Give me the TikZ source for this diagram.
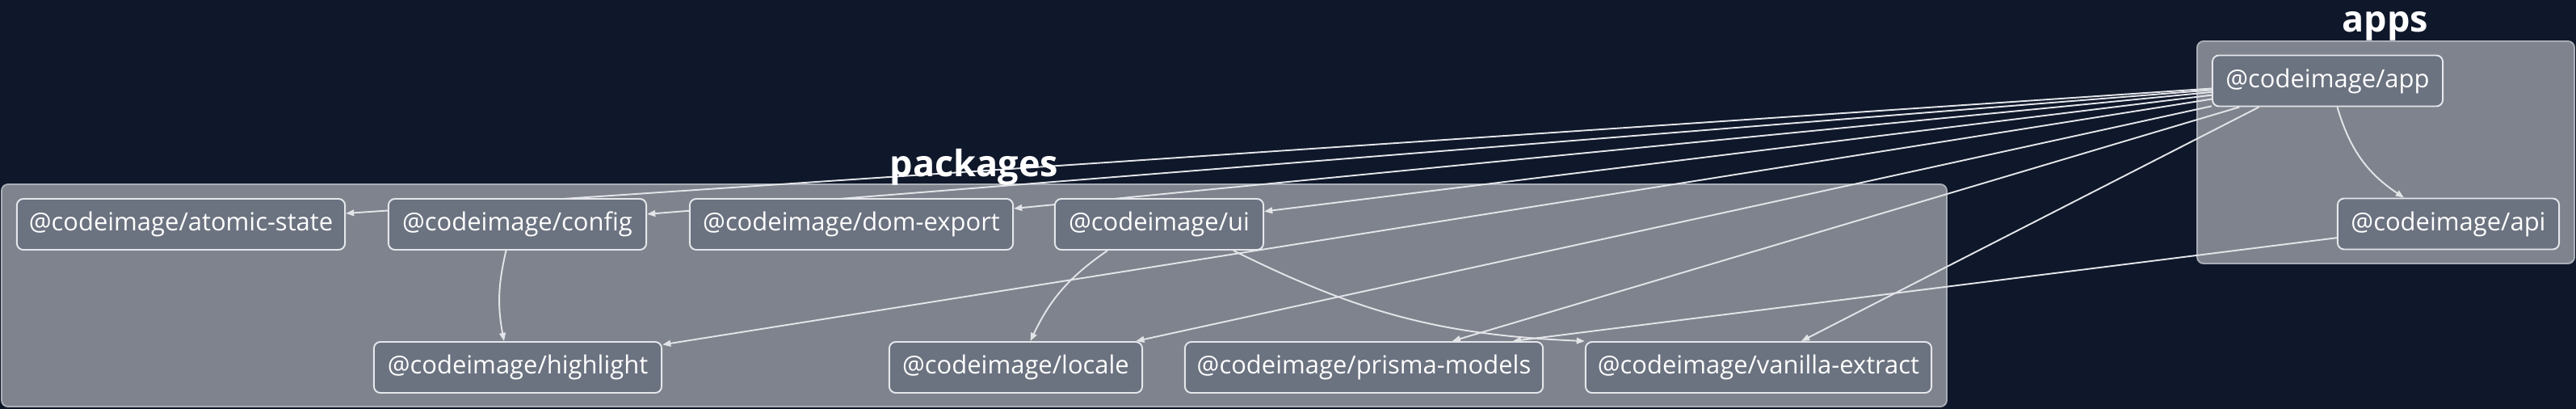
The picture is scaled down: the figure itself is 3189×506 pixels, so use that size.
\documentclass[tikz,border=0pt]{standalone}
\usepackage{fontspec}
\setmainfont{Open Sans}
\usetikzlibrary{arrows.meta, backgrounds, calc}

\definecolor{navybg}{HTML}{0F172A}
\definecolor{grpfill}{HTML}{7F838D}
\definecolor{grpline}{HTML}{A9ADB5}
\definecolor{nodefill}{HTML}{6B7280}
\definecolor{nodeline}{HTML}{E5E7EB}
\definecolor{edgeline}{HTML}{E2E4E8}

\pgfdeclarelayer{clusters}
\pgfsetlayers{clusters,background,main}

\begin{document}
\begin{tikzpicture}[x=0.01cm, y=-0.01cm,
  pkg/.style={draw=nodeline, line width=0.55pt, fill=nodefill, rounded corners=0.08cm,
    text=white, font=\fontsize{8.8pt}{10pt}\selectfont, minimum height=0.63cm, inner sep=0pt},
  grp/.style={draw=grpline, line width=0.55pt, fill=grpfill, rounded corners=0.08cm},
  grplabel/.style={text=white, font=\fontsize{12.8pt}{14pt}\selectfont\bfseries, anchor=base, inner sep=0pt},
  dep/.style={draw=edgeline, line width=0.55pt, -{Triangle[length=2.9pt, width=2.2pt]}}]

  % groups
  \begin{pgfonlayer}{clusters}
    \fill[navybg] (0,0) rectangle (3189,506);
    \draw[grp] (2,228) rectangle (2410,503);
    \draw[grp] (2720,51) rectangle (3187,326);
  \end{pgfonlayer}
  \node[grplabel] (pkglabel) at (1206,218) {packages};
  \node[grplabel] (applabel) at (2953,40) {apps};

  % packages
  \node[pkg, minimum width=4.06cm] (atomic) at (224,277.5) {@codeimage/atomic-state};
  \node[pkg, minimum width=3.19cm] (config) at (640.5,277.5) {@codeimage/config};
  \node[pkg, minimum width=4.00cm] (domexport) at (1054,277.5) {@codeimage/dom-export};
  \node[pkg, minimum width=2.58cm] (ui) at (1435,277.5) {@codeimage/ui};
  \node[pkg, minimum width=3.56cm] (highlight) at (641,454.5) {@codeimage/highlight};
  \node[pkg, minimum width=3.13cm] (locale) at (1257.5,454.5) {@codeimage/locale};
  \node[pkg, minimum width=4.43cm] (prisma) at (1688.5,454.5) {@codeimage/prisma-models};
  \node[pkg, minimum width=4.28cm] (vanilla) at (2177,454.5) {@codeimage/vanilla-extract};

  % apps
  \node[pkg, minimum width=2.85cm] (app) at (2881.5,100) {@codeimage/app};
  \node[pkg, minimum width=2.74cm] (api) at (3031,277) {@codeimage/api};

  % dependencies
  \begin{scope}[on background layer]
    \draw[dep] (app) -- (atomic);
    \draw[dep] (app) -- (config);
    \draw[dep] (app) -- (domexport);
    \draw[dep] (app) -- (ui);
    \draw[dep] (app) -- (highlight);
    \draw[dep] (app) -- (locale);
    \draw[dep] (app) -- (prisma);
    \draw[dep] ($(app.south)+(-85,0)$) -- ($(vanilla.north)+(53,0)$);
    \draw[dep] ($(app.south)+(12,0)$) to[bend right=20] ($(api.north)+(-55,0)$);
    \draw[dep] (api) -- (prisma.10);
    \draw[dep] ($(config.south)+(-14,0)$) to[bend right=12] ($(highlight.north)+(-17,0)$);
    \draw[dep] ($(ui.south)+(-64,0)$) to[bend right=15] ($(locale.north)+(18,0)$);
    \draw[dep] ($(ui.south)+(92,0)$) to[bend right=12] (vanilla.north west);
  \end{scope}

\end{tikzpicture}
\end{document}
